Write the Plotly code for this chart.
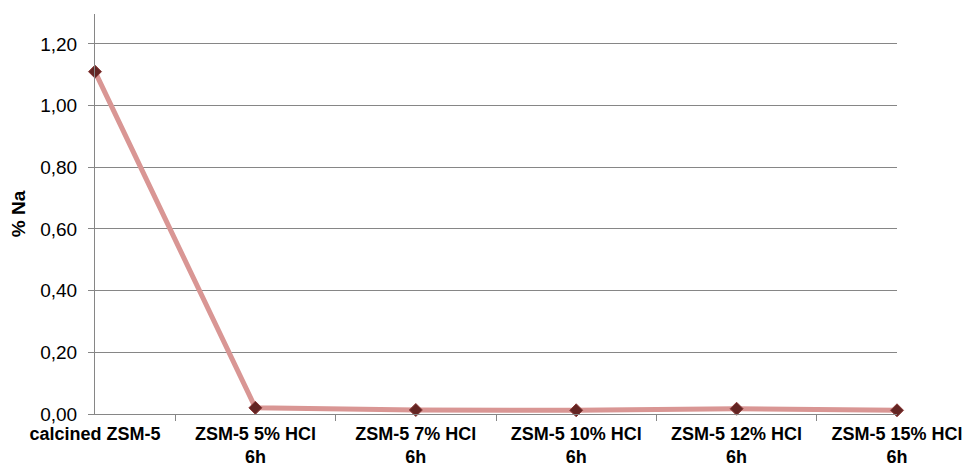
import plotly.graph_objects as go

categories = ['calcined ZSM-5', 'ZSM-5 5% HCl<br>6h', 'ZSM-5 7% HCl<br>6h',
              'ZSM-5 10% HCl<br>6h', 'ZSM-5 12% HCl<br>6h', 'ZSM-5 15% HCl<br>6h']
na_percent = [1.11, 0.02, 0.013, 0.012, 0.017, 0.012]
y_ticks = [0, 0.2, 0.4, 0.6, 0.8, 1.0, 1.2]

x_pos = list(range(len(categories)))

fig = go.Figure()
fig.add_trace(go.Scatter(
    x=x_pos, y=na_percent, mode='lines+markers',
    line=dict(color='#D99694', width=5),
    marker=dict(symbol='diamond', size=10, color='#632523',
                line=dict(color='#8B3A38', width=1)),
    cliponaxis=False,
))

# the page adds an 8px body margin, so the figure is sized/shifted for it
fig.update_layout(
    width=963, height=459,
    margin=dict(l=87, r=74, t=6, b=53),
    plot_bgcolor='white', paper_bgcolor='white',
    separators=',.',
    showlegend=False,
    font=dict(family='Liberation Sans, Arial, sans-serif', color='black'),
)
fig.update_xaxes(
    range=[0, len(categories) - 1], automargin=False,
    tickvals=x_pos, ticktext=['<b>' + c + '</b>' for c in categories],
    tickfont=dict(size=18), ticks='', showgrid=False, ticklabelstandoff=3,
    showline=True, linecolor='#868686', linewidth=1,
    minor=dict(tickvals=[i + 0.5 for i in range(len(categories) - 1)],
               ticks='outside', ticklen=6, tickcolor='#868686', showgrid=False),
)
fig.update_yaxes(
    range=[0, 1.297], tickvals=y_ticks, tickformat='.2f', automargin=False,
    tickfont=dict(size=19), ticks='outside', ticklen=6, tickcolor='#868686',
    ticklabelstandoff=7,
    showgrid=True, gridcolor='#868686', gridwidth=1,
    showline=True, linecolor='#868686', linewidth=1,
    zeroline=False,
    title=dict(text='<b>% Na</b>', font=dict(size=19), standoff=10),
)

fig.write_html('out.html')
